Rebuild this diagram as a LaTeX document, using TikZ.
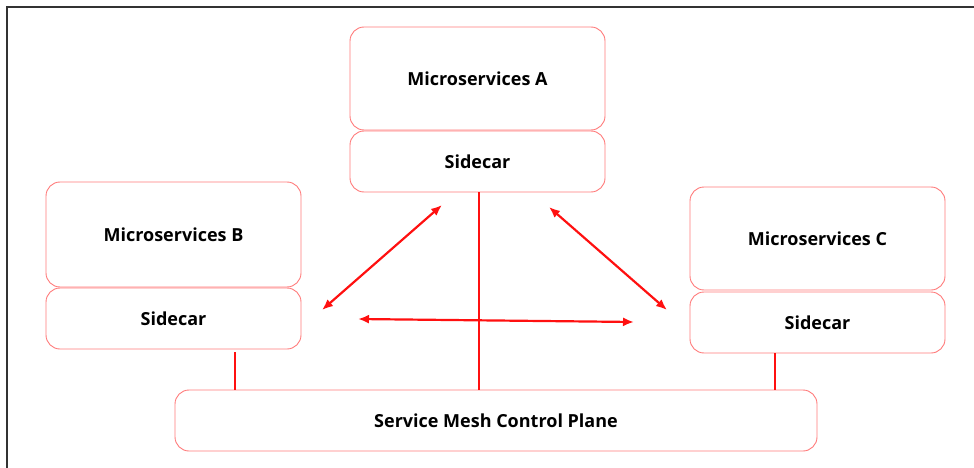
\documentclass[tikz,border=0pt]{standalone}
\usepackage{fontspec}
\setmainfont{Open Sans}
\usetikzlibrary{calc,arrows.meta}
\definecolor{boxred}{HTML}{FF7A7A}
\definecolor{linkred}{HTML}{FF1010}

\begin{document}
\begin{tikzpicture}[x=1pt, y=-1pt,
    svcbox/.style={draw=boxred, line width=0.9pt, rounded corners=14pt,
      minimum width=255pt, font=\fontsize{18}{21}\selectfont\bfseries},
    link/.style={linkred, line width=2.2pt,
      {Latex[length=11pt,width=9pt]}-{Latex[length=11pt,width=9pt]}},
    tap/.style={linkred, line width=1.6pt}]
  \useasboundingbox (0,0) rectangle (974,468);
  \draw[black!80, line width=1.6pt] (7,468) -- (7,7) -- (974,7);

  % services with their sidecars
  \node[svcbox, minimum height=103pt] (msA) at (477.5,78.5) {Microservices A};
  \node[svcbox, minimum height=61pt] (scA) at (477.5,161.5) {Sidecar};
  \node[svcbox, minimum height=105pt] (msB) at (173.5,234.5) {Microservices B};
  \node[svcbox, minimum height=61pt] (scB) at (173.5,318.5) {Sidecar};
  \node[svcbox, minimum height=103pt] (msC) at (817.5,238.5) {Microservices C};
  \node[svcbox, minimum height=61pt] (scC) at (817.5,322.5) {Sidecar};

  \node[svcbox, minimum width=642pt, minimum height=61pt] (plane) at (496,420.5)
    {Service Mesh Control Plane};

  % ---------- links to the control plane ----------
  \coordinate (tapA) at (479,192);
  \coordinate (tapB) at (235,352);
  \coordinate (tapC) at (775,353);
  \draw[tap] (tapA) -- (tapA |- plane.north);
  \draw[tap] (tapB) -- (tapB |- plane.north);
  \draw[tap] (tapC) -- (tapC |- plane.north);

  % ---------- traffic between sidecars ----------
  \coordinate (endBA) at (322,310);
  \coordinate (endAB) at (442,205);
  \coordinate (endAC) at (549,207);
  \coordinate (endCA) at (667,310);
  \coordinate (endBC) at (358,319);
  \coordinate (endCB) at (634,322);
  \draw[link] (endBA) -- (endAB);
  \draw[link] (endAC) -- (endCA);
  \draw[link] (endBC) -- (endCB);
\end{tikzpicture}
\end{document}
